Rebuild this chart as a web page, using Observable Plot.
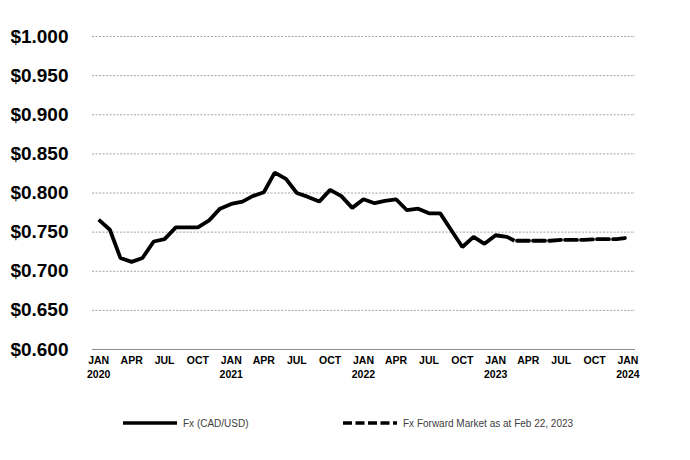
<!DOCTYPE html>
<html>
<head>
<meta charset="utf-8">
<script src="https://cdn.jsdelivr.net/npm/d3@7"></script>
<script src="https://cdn.jsdelivr.net/npm/@observablehq/plot@0.6"></script>
<style>
  html, body { margin: 0; padding: 0; background: #fff; }
  #wrap { position: relative; width: 690px; height: 460px; font-family: "Liberation Sans", Arial, sans-serif; }
  .leg { position: absolute; top: 416px; height: 14px; display: flex; align-items: center; font-size: 10px; color: #404040; }
  .leg svg { margin-right: 5px; }
</style>
</head>
<body>
<div id="wrap"></div>
<script>
// Spot FX (CAD/USD), monthly, Jan 2020 – Feb 22, 2023
const fxDates = [
  "2020-01-01","2020-02-01","2020-03-01","2020-04-01","2020-05-01","2020-06-01",
  "2020-07-01","2020-08-01","2020-09-01","2020-10-01","2020-11-01","2020-12-01",
  "2021-01-01","2021-02-01","2021-03-01","2021-04-01","2021-05-01","2021-06-01",
  "2021-07-01","2021-08-01","2021-09-01","2021-10-01","2021-11-01","2021-12-01",
  "2022-01-01","2022-02-01","2022-03-01","2022-04-01","2022-05-01","2022-06-01",
  "2022-07-01","2022-08-01","2022-09-01","2022-10-01","2022-11-01","2022-12-01",
  "2023-01-01","2023-02-01","2023-02-22"
];
const fxValues = [
  0.766,0.753,0.717,0.712,0.717,0.738,0.741,0.756,0.756,0.756,0.765,0.780,
  0.786,0.789,0.796,0.801,0.826,0.818,0.800,0.795,0.789,0.804,0.796,0.781,
  0.792,0.787,0.790,0.792,0.778,0.780,0.774,0.774,0.752,0.731,0.744,0.735,
  0.746,0.744,0.739
];
// Forward market as at Feb 22, 2023
const fwdDates = [
  "2023-03-01","2023-04-01","2023-05-01","2023-06-01","2023-07-01","2023-08-01",
  "2023-09-01","2023-10-01","2023-11-01","2023-12-01","2024-01-01"
];
const fwdValues = [0.739,0.739,0.739,0.739,0.740,0.740,0.740,0.741,0.741,0.741,0.743];

const yTicks = [0.60,0.65,0.70,0.75,0.80,0.85,0.90,0.95,1.00];
const xTickDates = [
  "2020-01-01","2020-04-01","2020-07-01","2020-10-01",
  "2021-01-01","2021-04-01","2021-07-01","2021-10-01",
  "2022-01-01","2022-04-01","2022-07-01","2022-10-01",
  "2023-01-01","2023-04-01","2023-07-01","2023-10-01","2024-01-01"
];
const monthNames = ["JAN","FEB","MAR","APR","MAY","JUN","JUL","AUG","SEP","OCT","NOV","DEC"];
const seriesNames = ["Fx (CAD/USD)", "Fx Forward Market as at Feb 22, 2023"];

const parse = s => new Date(s + "T00:00:00Z");
const fx = fxDates.map((d, i) => ({date: parse(d), value: fxValues[i]}));
const fwd = fwdDates.map((d, i) => ({date: parse(d), value: fwdValues[i]}));

const chart = Plot.plot({
  width: 690,
  height: 395,
  marginLeft: 92,
  marginRight: 55,
  marginTop: 36,
  marginBottom: 46,
  style: {fontFamily: "'Liberation Sans', Arial, sans-serif", color: "#000", background: "#fff"},
  x: {type: "utc", domain: [parse("2019-12-15"), parse("2024-01-22")]},
  y: {domain: [0.6, 1.0]},
  marks: [
    Plot.gridY(yTicks.slice(1), {stroke: "#8c8c8c", strokeOpacity: 1, strokeWidth: 0.8, strokeDasharray: "2,1.5"}),
    Plot.ruleY([0.6], {stroke: "#8c8c8c", strokeWidth: 1}),
    Plot.axisY(yTicks, {
      tickSize: 0, tickPadding: 24, fontSize: 19, fontWeight: "bold", label: null,
      tickFormat: d => "$" + d.toFixed(3)
    }),
    Plot.axisX(xTickDates.map(parse), {
      tickSize: 0, tickPadding: 5, fontSize: 10.5, fontWeight: "bold", label: null, lineHeight: 1.3,
      tickFormat: d => monthNames[d.getUTCMonth()] + (d.getUTCMonth() === 0 ? "\n" + d.getUTCFullYear() : "")
    }),
    Plot.line(fx, {x: "date", y: "value", stroke: "#000", strokeWidth: 3.8, strokeLinejoin: "miter", strokeLinecap: "butt"}),
    Plot.line(fwd, {x: "date", y: "value", stroke: "#000", strokeWidth: 3.8, strokeDasharray: "12,4"})
  ]
});

const wrap = document.getElementById("wrap");
wrap.appendChild(chart);

function legendItem(left, dash, label) {
  const div = document.createElement("div");
  div.className = "leg";
  div.style.left = left + "px";
  div.innerHTML = `<svg width="55" height="8"><line x1="0" x2="54" y1="4" y2="4" stroke="#000" stroke-width="3.4" ${dash ? 'stroke-dasharray="9,3.5"' : ''}/></svg><span>${label}</span>`;
  wrap.appendChild(div);
}
legendItem(123, false, seriesNames[0]);
legendItem(343, true, seriesNames[1]);
</script>
</body>
</html>
